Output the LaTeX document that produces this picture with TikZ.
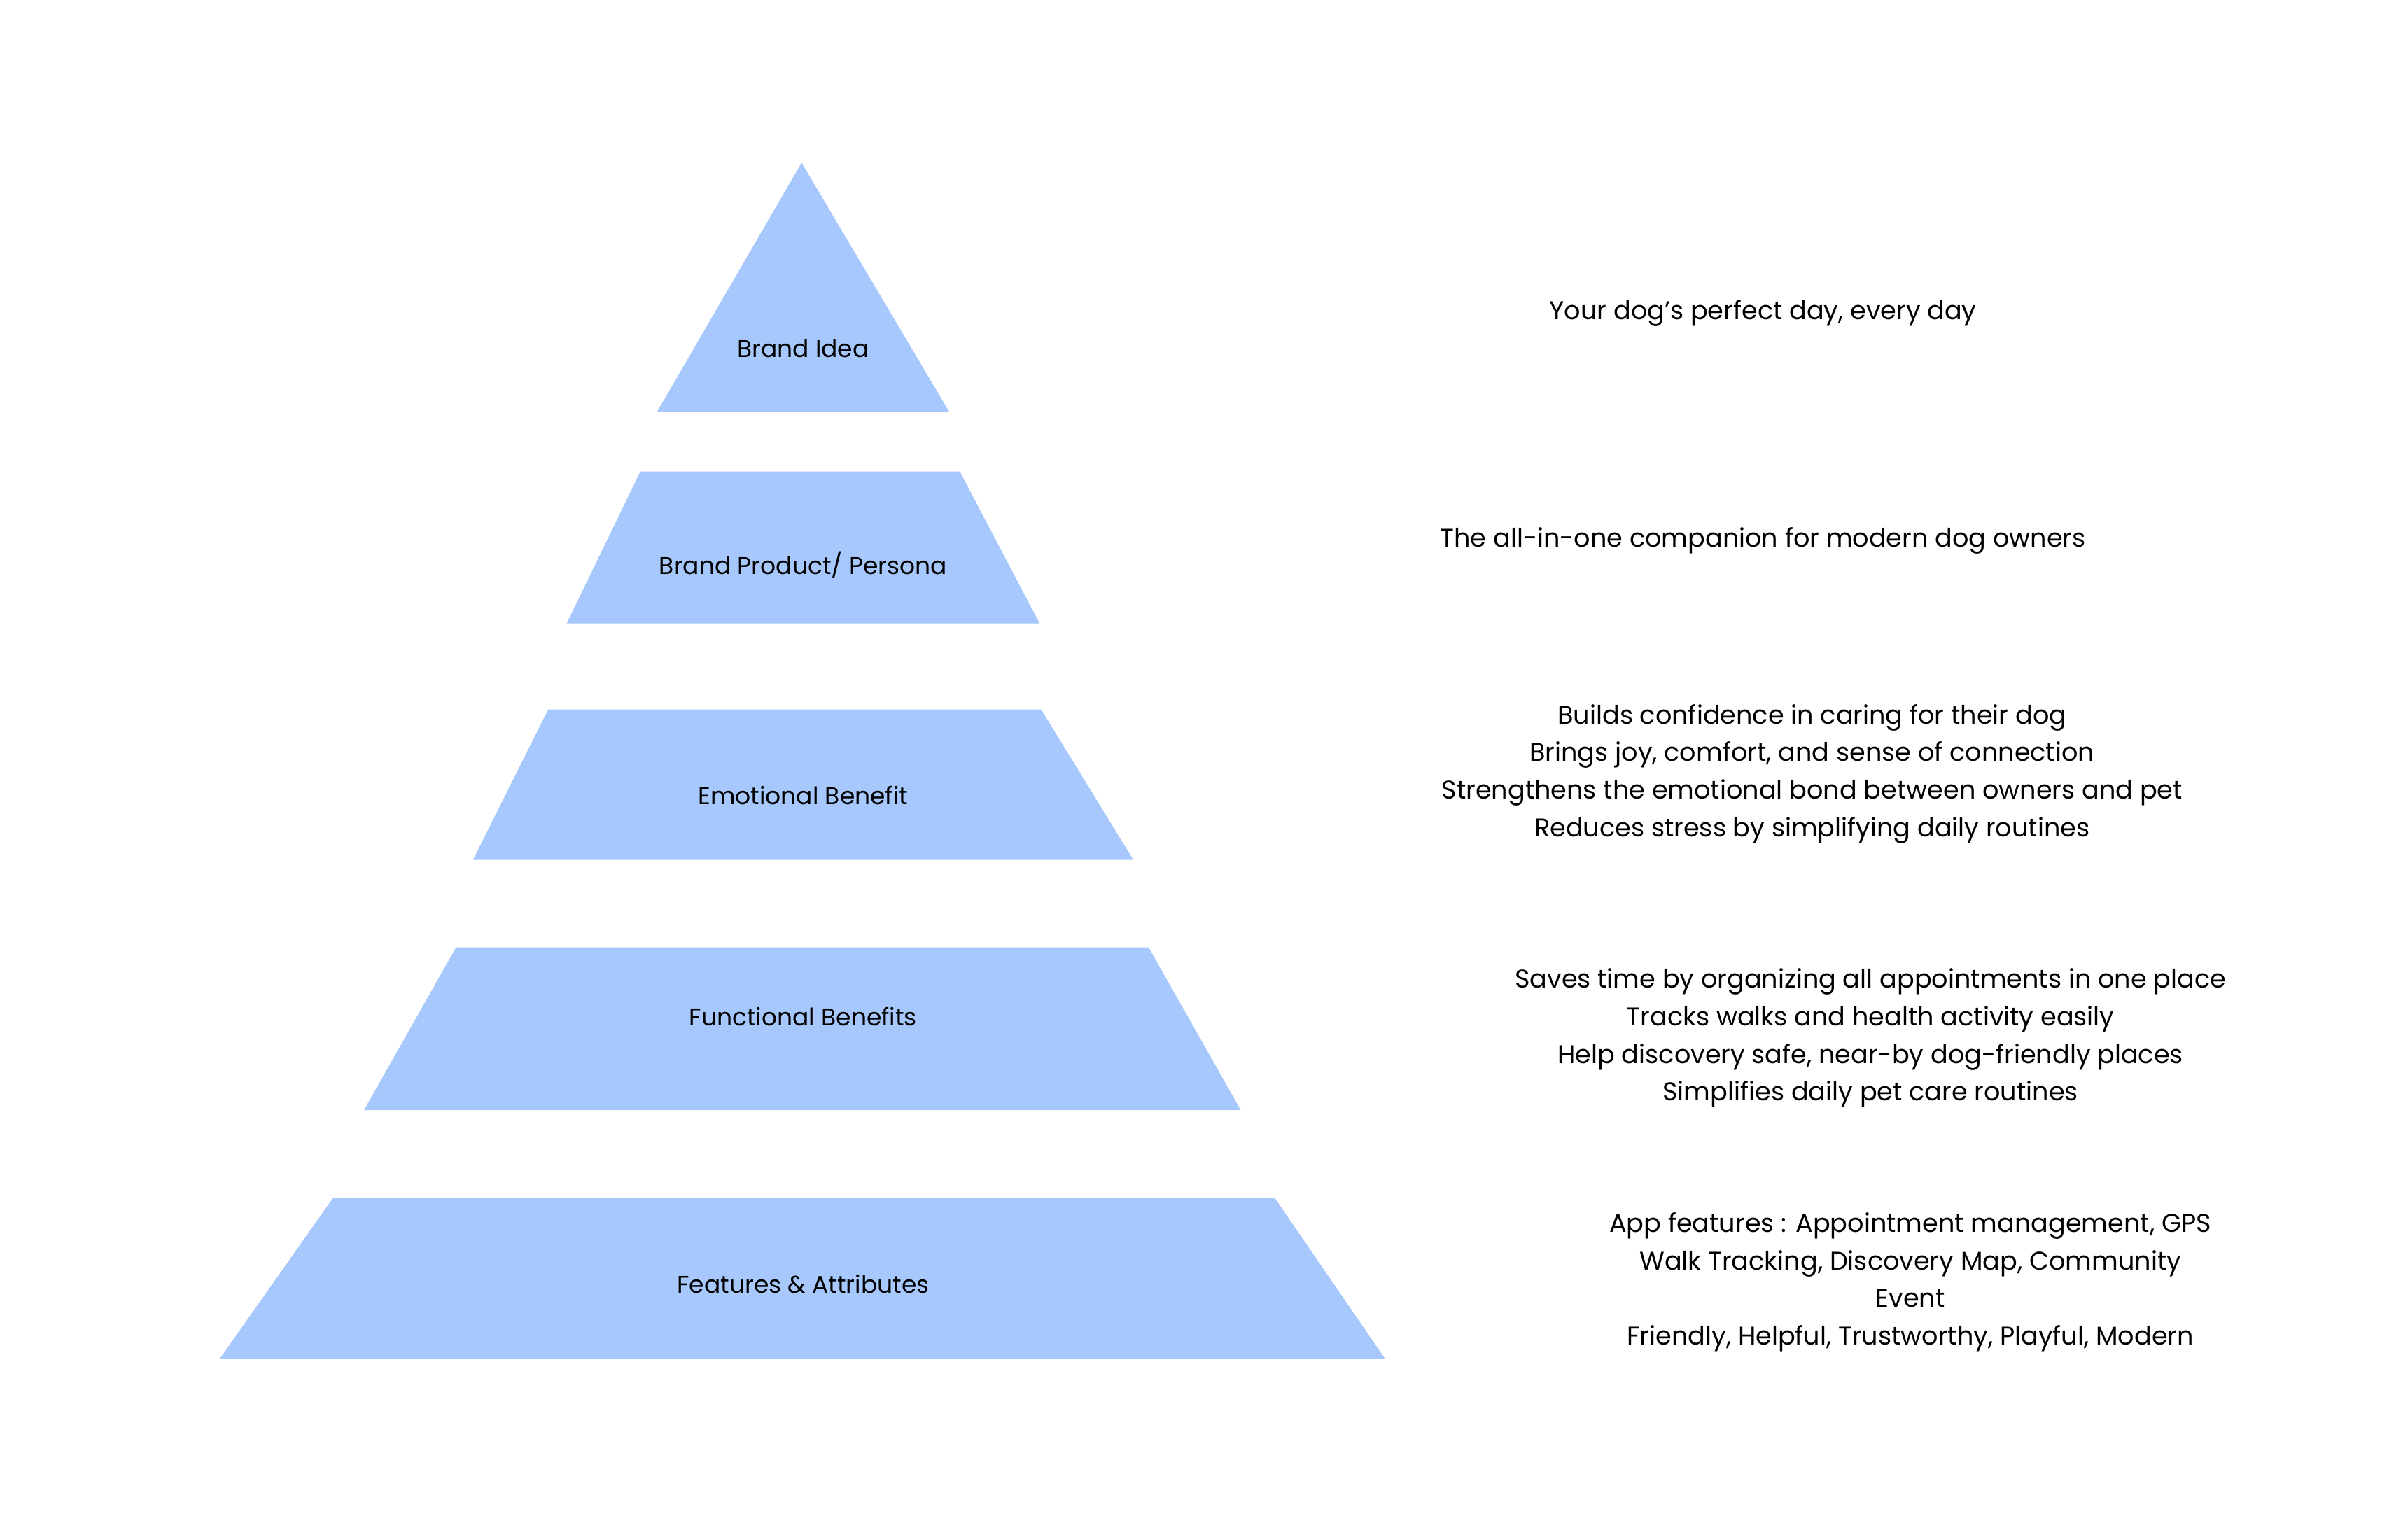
\documentclass[tikz,border=0pt]{standalone}
\usepackage{fontspec}
\setmainfont{Poppins}
\usepackage{xcolor}
\definecolor{tier}{HTML}{A6C8FC}

\begin{document}
\begin{tikzpicture}[x=.02cm,y=-.02cm,
  lbl/.style={font=\fontsize{8.95}{13.9}\selectfont},
  note/.style={font=\fontsize{9.5}{13.9}\selectfont,align=center}]
\useasboundingbox (0,0) rectangle (1568,987);
% pyramid tiers
\fill[tier] (522,106)--(618,268)--(428,268)--cycle;
\fill[tier] (417,307)--(625,307)--(677,406)--(369,406)--cycle;
\fill[tier] (357,462)--(678,462)--(738,560)--(308,560)--cycle;
\fill[tier] (297,617)--(748,617)--(808,723)--(237,723)--cycle;
\fill[tier] (217,780)--(830,780)--(902,885)--(143,885)--cycle;
% tier labels
\node[lbl] (idea) at (523,227) {Brand Idea};
\node[lbl] (persona) at (523,368) {Brand Product/ Persona};
\node[lbl] (emotional) at (523,518) {Emotional Benefit};
\node[lbl] (functional) at (523,662) {Functional Benefits};
\node[lbl] (features) at (523,836) {Features \& Attributes};
% descriptions
\node[note] (ideanote) at (1148,204) {Your dog's perfect day, every day};
\node[note] (personanote) at (1148,352) {The all-in-one companion for modern dog owners};
\node[note] (emotionalnote) at (1180,504) {Builds confidence in caring for their dog\\Brings joy, comfort, and sense of connection\\Strengthens the emotional bond between owners and pet\\Reduces stress by simplifying daily routines};
\node[note] (functionalnote) at (1218,676) {Saves time by organizing all appointments in one place\\Tracks walks and health activity easily\\Help discovery safe, near-by dog-friendly places\\Simplifies daily pet care routines};
\node[note] (featuresnote) at (1244,835) {App features : Appointment management, GPS\\Walk Tracking, Discovery Map, Community\\Event\\Friendly, Helpful, Trustworthy, Playful, Modern};
\end{tikzpicture}
\end{document}
